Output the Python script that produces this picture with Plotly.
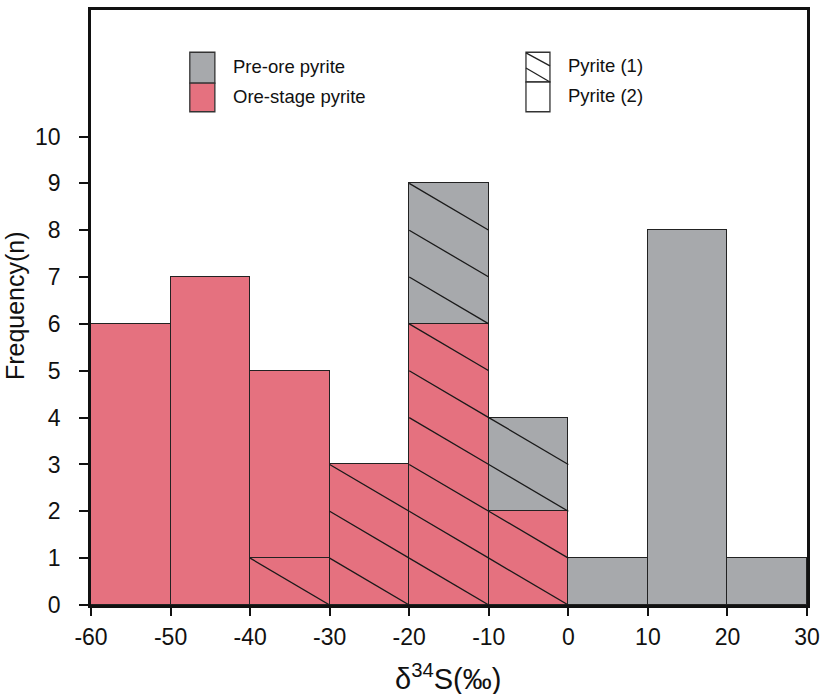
import plotly.graph_objects as go

bin_left = [-60, -50, -40, -30, -20, -10, 0, 10, 20]
bin_width = 10
ore_py1 = [0, 0, 1, 3, 6, 2, 0, 0, 0]
ore_py2 = [6, 7, 4, 0, 0, 0, 0, 0, 0]
pre_py1 = [0, 0, 0, 0, 3, 2, 0, 0, 0]
pre_py2 = [0, 0, 0, 0, 0, 0, 1, 8, 1]

x_ticks = [-60, -50, -40, -30, -20, -10, 0, 10, 20, 30]
y_ticks = list(range(0, 11))

RED = "#E5717F"
GRAY = "#A7A9AC"
FONT = "Liberation Sans, Arial, sans-serif"

centers = [l + bin_width / 2 for l in bin_left]

fig = go.Figure()
series = [(ore_py1, RED), (ore_py2, RED), (pre_py1, GRAY), (pre_py2, GRAY)]
for vals, col in series:
    fig.add_trace(go.Bar(x=centers, y=vals, width=bin_width,
                         marker=dict(color=col, line=dict(color="#222222", width=1.2)),
                         showlegend=False, hoverinfo="skip"))

# hatch lines for pyrite (1) segments, one line per count unit
hx, hy = [], []
base = [0] * len(bin_left)
for vals, hatched in [(ore_py1, True), (ore_py2, False), (pre_py1, True), (pre_py2, False)]:
    for i, v in enumerate(vals):
        if hatched:
            b = base[i]
            for n in range(b + 1, b + v + 1):
                hx += [bin_left[i], bin_left[i] + bin_width, None]
                hy += [n, n - 1, None]
        base[i] += v
fig.add_trace(go.Scatter(x=hx, y=hy, mode="lines", line=dict(color="#1a1a1a", width=1.3),
                         showlegend=False, hoverinfo="skip"))

# legend drawn manually (paper coords)
shapes = []
def box(x0, x1, y0, y1, fill):
    shapes.append(dict(type="rect", xref="paper", yref="paper", x0=x0, x1=x1, y0=y0, y1=y1,
                       fillcolor=fill, line=dict(color="#333333", width=1.3)))
box(0.138, 0.173, 0.877, 0.929, GRAY)
box(0.138, 0.173, 0.829, 0.877, RED)
box(0.6075, 0.641, 0.879, 0.929, "white")
box(0.6075, 0.641, 0.829, 0.879, "white")
for (ya, yb) in [(0.928, 0.906), (0.9025, 0.879)]:
    shapes.append(dict(type="line", xref="paper", yref="paper", x0=0.6075, x1=0.641, y0=ya, y1=yb,
                       line=dict(color="#222222", width=1.3)))

annotations = []
def label(x, y, t):
    annotations.append(dict(xref="paper", yref="paper", x=x, y=y, text=t, showarrow=False,
                            xanchor="left", yanchor="middle",
                            font=dict(family=FONT, size=18.5, color="#111111")))
label(0.196, 0.905, "Pre-ore pyrite")
label(0.196, 0.854, "Ore-stage pyrite")
label(0.663, 0.907, "Pyrite (1)")
label(0.663, 0.856, "Pyrite (2)")

# axis titles
annotations.append(dict(xref="paper", yref="paper", x=-0.106, y=0.5025, text="Frequency(n)",
                        textangle=-90, showarrow=False, xanchor="center", yanchor="middle",
                        font=dict(family=FONT, size=25, color="#111111")))
annotations.append(dict(xref="paper", yref="paper", x=0.499, y=-0.121, text="δ<sup>34</sup>S(‰)",
                        showarrow=False, xanchor="center", yanchor="middle",
                        font=dict(family=FONT, size=29, color="#111111")))

fig.update_layout(
    width=820, height=694,
    margin=dict(l=91, r=13, t=10, b=89, autoexpand=False),
    barmode="stack", bargap=0,
    plot_bgcolor="white", paper_bgcolor="white",
    shapes=shapes, annotations=annotations,
    font=dict(family=FONT, color="#111111"),
)
fig.update_xaxes(range=[-60, 30], tickvals=x_ticks, ticktext=[str(v) for v in x_ticks],
                 showline=True, linecolor="#111111", linewidth=2.5, mirror=True,
                 ticks="outside", ticklen=8, tickwidth=2, tickcolor="#111111",
                 showgrid=False, zeroline=False, automargin=False, ticklabelstandoff=2,
                 tickfont=dict(size=23, family=FONT))
fig.update_yaxes(range=[0, 12.7], tickvals=y_ticks,
                 showline=True, linecolor="#111111", linewidth=2.5, mirror=True,
                 ticks="outside", ticklen=9, tickwidth=2, tickcolor="#111111",
                 showgrid=False, zeroline=False, automargin=False, ticklabelstandoff=14,
                 tickfont=dict(size=23, family=FONT))

fig.write_html("out.html", config={"displayModeBar": False},
               post_script="document.body.style.margin='0';document.body.style.overflow='hidden';")
